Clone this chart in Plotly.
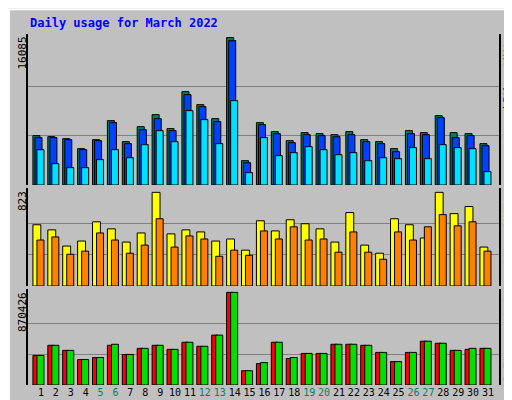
import plotly.graph_objects as go

days = list(range(1, 32))
weekend = [5, 6, 12, 13, 19, 20, 26, 27]

hits = [5386, 5277, 5058, 3967, 4949, 7023, 4731, 6368, 7678, 6150, 10189, 8770, 7242, 16085, 2656, 6805,
        5822, 4840, 5713, 5604, 5495, 5822, 4949, 4731, 3967, 5932, 5713, 7569, 5713, 5604, 4512]
files = [5167, 5167, 4949, 3857, 4840, 6805, 4512, 6041, 7242, 5932, 9862, 8552, 6914, 15757, 2438, 6587,
         5604, 4622, 5495, 5386, 5277, 5495, 4731, 4512, 3639, 5604, 5495, 7351, 5167, 5386, 4294]
pages = [3857, 2329, 1892, 1892, 2766, 3857, 2984, 4403, 5932, 4731, 8115, 7132, 4512, 9207, 1346, 5167,
         3202, 3530, 4185, 3857, 3311, 3530, 2656, 2984, 2875, 4076, 2875, 4403, 4076, 3967, 1456]
visits = [538, 493, 351, 395, 564, 502, 386, 466, 823, 458, 493, 475, 395, 413, 315, 573,
          484, 582, 547, 502, 386, 645, 359, 288, 591, 538, 422, 823, 636, 698, 342]
sites = [404, 431, 279, 306, 466, 404, 288, 359, 591, 342, 440, 413, 261, 315, 270, 484,
         413, 520, 404, 413, 297, 475, 297, 235, 475, 404, 520, 627, 529, 564, 306]
kb_out = [277391, 373043, 325217, 239130, 258260, 382608, 286956, 344347, 373043, 334782, 401738, 363478,
          468695, 870426, 133913, 210434, 401738, 258260, 296521, 296521, 382608, 382608, 373043, 306086,
          220000, 306086, 411304, 392173, 325217, 344347, 344347]
kb_f = [277391, 373043, 325217, 239130, 258260, 373043, 286956, 344347, 373043, 334782, 401738, 363478,
        468695, 870426, 133913, 200869, 401738, 248695, 296521, 296521, 382608, 382608, 373043, 306086,
        220000, 306086, 411304, 392173, 325217, 334782, 344347]

BG = "#C0C0C0"
LINE = dict(color="black", width=1)

fig = go.Figure()


def bars(y, color, off, w, ax):
    fig.add_trace(go.Bar(x=days, y=y, offset=off, width=w, marker=dict(color=color, line=LINE),
                         xaxis="x", yaxis=ax, showlegend=False, hoverinfo="skip"))


bars(hits, "#00805C", -0.54, 0.47, "y")
bars(files, "#0040FF", -0.40, 0.47, "y")
bars(pages, "#00E0FF", -0.27, 0.47, "y")
bars(visits, "#FFFF00", -0.54, 0.53, "y2")
bars(sites, "#FF8000", -0.27, 0.47, "y2")
bars(kb_f, "#FF0000", -0.54, 0.40, "y3")
bars(kb_out, "#00E000", -0.27, 0.47, "y3")

ticktext = ["<span style='color:#00805C'>%d</span>" % d if d in weekend else str(d) for d in days]

yax = dict(showticklabels=False, showgrid=True, gridcolor="#808080", gridwidth=1, zeroline=False,
           showline=True, linecolor="black", linewidth=2, mirror=True, anchor="x")

annotations = [
    dict(text="<b>Daily usage for March 2022</b>", x=20 / 512, y=1 - 15 / 400,
         xanchor="left", font=dict(family="DejaVu Sans Mono", size=12, color="#0000FF")),
    dict(text="16085", x=14 / 512, y=1 - 27 / 400, textangle=-90, yanchor="top"),
    dict(text="823", x=14 / 512, y=1 - 181 / 400, textangle=-90, yanchor="top"),
    dict(text="870426", x=14 / 512, y=1 - 282 / 400, textangle=-90, yanchor="top"),
]

# right-side vertical legend labels: (text, colour, centre y in px)
side_labels = [
    ("Pages", "#00E0FF", 123), ("/", "black", 101), ("Files", "#0040FF", 80), ("/", "black", 58),
    ("Hits", "#00805C", 40),
    ("Visits", "#FFFF00", 197), ("/", "black", 218), ("Sites", "#FF8000", 242),
    ("kB Out", "#00C000", 283), ("/", "black", 308), ("kB In", "#0080FF", 332), ("/", "black", 353),
    ("kB F", "#FF0000", 367),
]
for txt, col, yc in side_labels:
    annotations.append(dict(text=txt, x=500 / 512, y=1 - yc / 400, textangle=-90,
                            font=dict(family="DejaVu Sans Mono", size=10, color=col)))

for a in annotations:
    a.update(xref="paper", yref="paper", showarrow=False)
    a.setdefault("xanchor", "center")
    a.setdefault("yanchor", "middle")

fig.update_layout(
    width=512, height=400, margin=dict(l=0, r=0, t=0, b=0),
    paper_bgcolor=BG, plot_bgcolor=BG, barmode="overlay",
    font=dict(family="DejaVu Sans Mono", size=11, color="black"),
    xaxis=dict(domain=[0.039, 0.959], range=[0.128, 31.74], tickvals=days, ticktext=ticktext,
               tickangle=0, tickfont=dict(size=10), showgrid=False, showline=False, ticks="",
               anchor="y3", zeroline=False),
    yaxis=dict(domain=[0.5575, 0.935], range=[0, 16478], tickvals=[5362, 10723], **yax),
    yaxis2=dict(domain=[0.305, 0.55], range=[0, 861], tickvals=[274, 549], **yax),
    yaxis3=dict(domain=[0.0575, 0.2975], range=[0, 902000], tickvals=[290142, 580284], **yax),
    shapes=[
        dict(type="rect", xref="paper", yref="paper", x0=0.002, y0=0.003, x1=0.996, y1=0.997,
             line=dict(color="white", width=2)),
        dict(type="line", xref="paper", yref="paper", x0=0.99, y0=0.005, x1=0.99, y1=0.99,
             line=dict(color="#808080", width=4)),
        dict(type="line", xref="paper", yref="paper", x0=0.01, y0=0.008, x1=0.99, y1=0.008,
             line=dict(color="#808080", width=4)),
    ],
    annotations=annotations,
)

fig.write_html("out.html")
